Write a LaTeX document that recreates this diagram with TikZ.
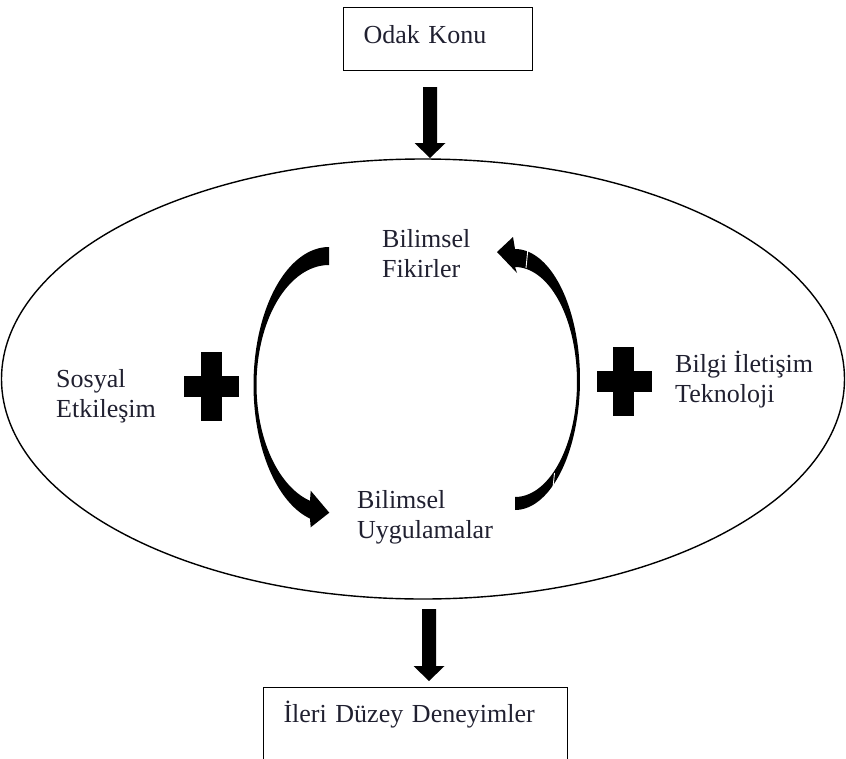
\documentclass[tikz,border=0pt]{standalone}
\usepackage{fontspec}
\setmainfont{Liberation Serif}
\usetikzlibrary{calc,shapes.geometric}
\definecolor{inkdark}{RGB}{32,32,48}
% straight block arrow pointing down: #1 = start of shaft, #2 = tip
\newcommand{\downblock}[2]{%
  \fill ($(#1)+(-7,0)$) -- ($(#1)+(7,0)$) -- ($(#2)+(7,-15)$) -- ($(#2)+(15.5,-15)$)
    -- (#2) -- ($(#2)+(-15.5,-15)$) -- ($(#2)+(-7,-15)$) -- cycle;}
\begin{document}
\begin{tikzpicture}[x=1pt,y=-1pt,
  lbl/.style={inner sep=0pt, anchor=base west, text=inkdark, align=left,
    font=\fontsize{26}{30}\selectfont},
  boxnode/.style={draw, line width=1pt, anchor=north west, inner xsep=20pt,
    inner ysep=0pt, text=inkdark, align=left, font=\fontsize{26}{30}\selectfont},
  sliver/.style={white, line width=0.9pt}]
\useasboundingbox (0,0) rectangle (846,758);
\clip (0,0) rectangle (846,758);

% boxes
\node[boxnode, text width=149pt, minimum height=63pt, text height=18pt, text depth=9pt]
  (focus) at (343,7) {Odak Konu};
\node[boxnode, text width=264pt, minimum height=100pt, text height=18pt, text depth=48pt]
  (advanced) at (263,687) {İleri Düzey Deneyimler};

% large ellipse
\node[draw, ellipse, line width=1.4pt, minimum width=843pt, minimum height=440pt, inner sep=0pt]
  (field) at (423,379) {};

% block arrows in and out of the ellipse
\coordinate (inTop) at (430,87);
\coordinate (inTip) at (430,158);
\coordinate (outTop) at (429,609);
\coordinate (outTip) at (429,681);
\downblock{inTop}{inTip}
\downblock{outTop}{outTip}

% two-line labels, placed by the baseline of their second line
\node[lbl] (ideas) at (382,277) {Bilimsel\\Fikirler};
\node[lbl] (practice) at (357,538) {Bilimsel\\Uygulamalar};
\node[lbl] (social) at (56,417) {Sosyal\\Etkileşim};
\node[lbl] (ict) at (675,402) {Bilgi İletişim\\Teknoloji};

% plus signs
\fill (201,352) rectangle (222,421);
\fill (184,376) rectangle (239,397);
\fill (613,347) rectangle (634,416);
\fill (597,371) rectangle (652,392);

% left curved arrow: from ideas down to practice
\fill (329,247)
  -- plot[domain=270:104.6, samples=90] ({329+75.5*cos(\x)},{385+138*sin(\x)})
  -- (310.7,527.3) -- (329.3,512.7) -- (310.7,490.7)
  -- plot[domain=105.2:270, samples=90] ({329+72.5*cos(\x)},{385+120*sin(\x)})
  -- cycle;

% right curved arrow: from practice up to ideas
\fill (515,510)
  -- plot[domain=90:-90, samples=90] ({515+65*cos(\x)},{379.5+130.5*sin(\x)})
  -- (513,237) -- (497,252) -- (517,273)
  -- plot[domain=-90:90, samples=90] ({515+62*cos(\x)},{382+115*sin(\x)})
  -- cycle;
\draw[sliver] (527.8,250) -- (526,268);
\draw[sliver] (554.5,473) -- (552.2,495);
\end{tikzpicture}
\end{document}
